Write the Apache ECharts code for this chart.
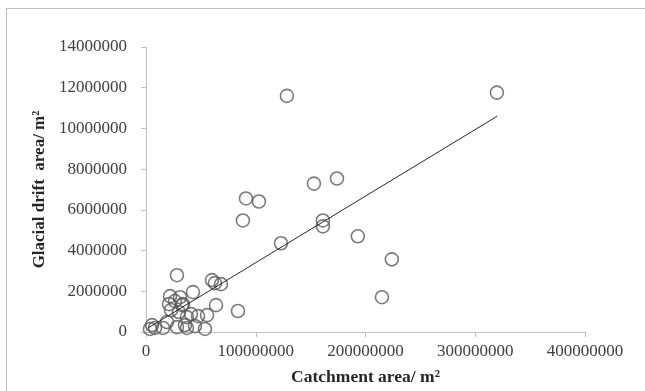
<!DOCTYPE html>
<html>
<head>
<meta charset="utf-8">
<script src="https://cdn.jsdelivr.net/npm/echarts@6/dist/echarts.min.js"></script>
<style>
  html, body { margin: 0; padding: 0; background: #fff; }
  #chart { width: 645px; height: 391px; }
</style>
</head>
<body>
<div id="chart"></div>
<script>
// catchment area (m2) vs glacial drift area (m2)
const catchmentArea = [
  319.7e6, 128.4e6, 174e6, 153e6, 91.1e6, 102.9e6, 88.3e6, 161.2e6, 161.2e6, 123e6,
  193e6, 224e6, 215e6, 83.8e6, 28.2e6, 60.1e6, 62.8e6, 68.3e6, 21.9e6, 31e6,
  42.8e6, 26.4e6, 32.8e6, 63.8e6, 22.8e6, 41e6, 37.3e6, 55.6e6, 30e6, 47.4e6,
  5.5e6, 19.1e6, 15.5e6, 28.2e6, 35.5e6, 44.6e6, 53.7e6, 8.2e6, 3.6e6, 37.3e6,
  21e6, 33.7e6
];
const driftArea = [
  11.76e6, 11.6e6, 7.54e6, 7.29e6, 6.56e6, 6.41e6, 5.48e6, 5.48e6, 5.19e6, 4.36e6,
  4.7e6, 3.57e6, 1.71e6, 1.03e6, 2.79e6, 2.55e6, 2.4e6, 2.35e6, 1.76e6, 1.71e6,
  1.96e6, 1.52e6, 1.32e6, 1.32e6, 1.08e6, 0.88e6, 0.73e6, 0.83e6, 0.98e6, 0.78e6,
  0.34e6, 0.49e6, 0.2e6, 0.24e6, 0.34e6, 0.29e6, 0.15e6, 0.2e6, 0.15e6, 0.2e6,
  1.37e6, 1.37e6
];
// linear trend line end points
const trendX = [2e6, 320e6];
const trendY = [0.2e6, 10.6e6];

const chart = echarts.init(document.getElementById('chart'));
const textColor = '#404040';
const axisColor = '#bfbfbf';
const plainNumber = (v) => String(v);

chart.setOption({
  animation: false,
  graphic: [
    { type: 'line', shape: { x1: 6, y1: 8.5, x2: 645, y2: 8.5 }, style: { stroke: '#bfbfbf', lineWidth: 1 } },
    { type: 'line', shape: { x1: 6.5, y1: 8, x2: 6.5, y2: 391 }, style: { stroke: '#bfbfbf', lineWidth: 1 } }
  ],
  grid: { left: 146, right: 60, top: 47, bottom: 58 },
  xAxis: {
    type: 'value',
    min: 0, max: 400000000, interval: 100000000,
    name: 'Catchment area/ m²',
    nameLocation: 'middle',
    nameGap: 36,
    nameTextStyle: { fontFamily: 'Liberation Serif', fontWeight: 'bold', fontSize: 17.5, color: '#262626' },
    axisLine: { show: true, lineStyle: { color: axisColor } },
    axisTick: { show: true, length: 5, lineStyle: { color: axisColor } },
    splitLine: { show: false },
    axisLabel: { fontFamily: 'Liberation Serif', fontSize: 17, color: textColor, margin: 11, formatter: plainNumber }
  },
  yAxis: {
    type: 'value',
    min: 0, max: 14000000, interval: 2000000,
    name: 'Glacial drift  area/ m²',
    nameLocation: 'middle',
    nameGap: 98,
    nameTextStyle: { fontFamily: 'Liberation Serif', fontWeight: 'bold', fontSize: 17, color: '#262626' },
    axisLine: { show: true, lineStyle: { color: axisColor } },
    axisTick: { show: true, length: 5, lineStyle: { color: axisColor } },
    splitLine: { show: false },
    axisLabel: { fontFamily: 'Liberation Serif', fontSize: 17, color: textColor, margin: 19, formatter: plainNumber }
  },
  series: [
    {
      type: 'scatter',
      data: catchmentArea.map((x, i) => [x, driftArea[i]]),
      symbol: 'circle',
      symbolSize: 13,
      itemStyle: { color: 'rgba(255,255,255,0)', borderColor: '#595959', borderWidth: 1.6 },
      z: 2
    },
    {
      type: 'line',
      data: trendX.map((x, i) => [x, trendY[i]]),
      showSymbol: false,
      lineStyle: { color: '#262626', width: 1 },
      z: 3
    }
  ]
});
</script>
</body>
</html>
